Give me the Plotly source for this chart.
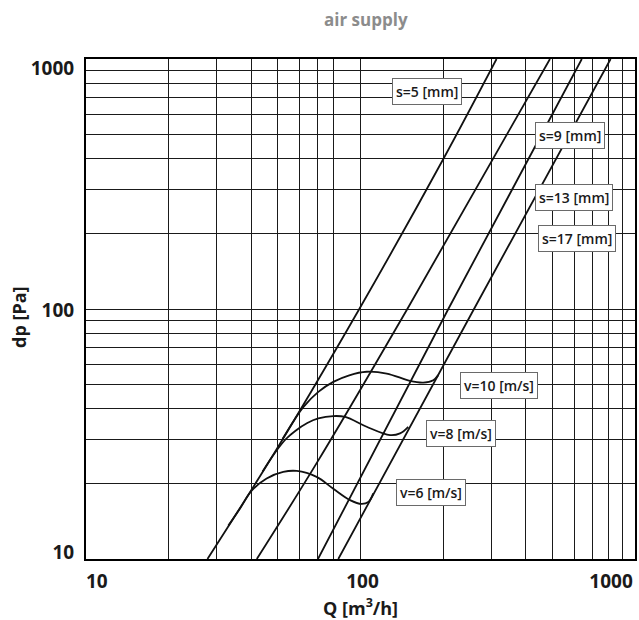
import math
import plotly.graph_objects as go

# ---------------- data ----------------
# constant-gap lines s [mm]: dp [Pa] vs Q [m3/h]
S_NAMES = ["s=5 [mm]", "s=9 [mm]", "s=13 [mm]", "s=17 [mm]"]
S5_Q = [27.7, 48.8, 99.0, 201.0, 313.0]
S5_DP = [10, 26.8, 100, 401, 1000]
S9_Q = [41.9, 70.2, 148.1, 490.0]
S9_DP = [10, 24.8, 100, 1000]
S13_Q = [70.0, 208.9, 640.0]
S13_DP = [10, 100, 1000]
S17_Q = [83.0, 259.1, 815.0]
S17_DP = [10, 100, 1000]

# constant-velocity curves v [m/s]
V_NAMES = ["v=10 [m/s]", "v=8 [m/s]", "v=6 [m/s]"]
V10_Q = [52.0, 57.0, 62.0, 70.2, 79.6, 91.0, 105.3, 124.6, 151.4, 169.3, 184.1, 192.0]
V10_DP = [30.2, 35.6, 40.6, 46.6, 51.1, 54.3, 56.1, 55.2, 51.6, 50.8, 51.9, 54.4]
V8_Q = [44.0, 48.8, 53.5, 58.0, 64.0, 70.2, 79.6, 88.0, 105.3, 128.1, 139.3, 149.3]
V8_DP = [22.4, 26.6, 30.2, 32.6, 35.0, 36.5, 37.3, 37.0, 33.8, 31.3, 31.8, 33.8]
V6_Q = [33.0, 36.5, 40.2, 45.5, 52.3, 58.6, 69.2, 79.6, 91.6, 101.0, 106.8, 111.3]
V6_DP = [13.6, 16.0, 18.8, 21.0, 22.3, 22.5, 21.3, 19.1, 17.2, 16.6, 16.9, 18.3]

# axes
X_RANGE = [10, 1000]
Y_RANGE = [10, 1000]
X_GRID = [20, 30, 40, 50, 60, 70, 80, 100, 200, 300, 400, 500, 600, 700, 800, 900]
Y_GRID = [20, 30, 40, 50, 60, 70, 80, 90, 100, 200, 300, 400, 500, 600, 700, 800, 900]
X_TICK_TEXT = ["10", "100", "1000"]
X_TICK_AT = [10.95, 101.7, 818]      # label anchor positions
Y_TICK_TEXT = ["10", "100", "1000"]
Y_TICK_AT = [10.66, 98.6, 920]

TITLE = "air supply"
X_TITLE = "Q [m<sup>3</sup>/h]"
Y_TITLE = "dp [Pa]"

# label boxes (paper coordinates)
S_LABEL_POS = [(0.621, 0.935), (0.8807, 0.8464), (0.8889, 0.724), (0.8944, 0.642)]
V_LABEL_POS = [(0.7523, 0.348), (0.6831, 0.2514), (0.6279, 0.133)]

# ---------------- figure ----------------
FONT = "Open Sans"
LINE = dict(color="#111111", width=1.8, shape="spline", smoothing=1.0)

fig = go.Figure()
for q, dp in [(S5_Q, S5_DP), (S9_Q, S9_DP), (S13_Q, S13_DP), (S17_Q, S17_DP),
              (V10_Q, V10_DP), (V8_Q, V8_DP), (V6_Q, V6_DP)]:
    fig.add_trace(go.Scatter(x=q, y=dp, mode="lines", line=LINE,
                             hoverinfo="skip", showlegend=False))

annotations = []
for name, (px, py) in zip(S_NAMES + V_NAMES, S_LABEL_POS + V_LABEL_POS):
    annotations.append(dict(
        text=name, x=px, y=py, xref="paper", yref="paper",
        showarrow=False, xanchor="center", yanchor="middle",
        font=dict(family=FONT, size=14, color="#1a1a1a", weight=600),
        bgcolor="white", bordercolor="#6a6a6a", borderwidth=1, borderpad=3))

annotations.append(dict(text=TITLE, x=0.5, y=1.0, xref="paper", yref="paper",
                        xanchor="center", yanchor="middle",
                        yshift=40, xshift=5, showarrow=False,
                        font=dict(family=FONT, size=17, color="#8c8c8c", weight="bold")))
annotations.append(dict(text=X_TITLE, x=0.5, y=0.0, xref="paper", yref="paper",
                        xanchor="center", yanchor="middle",
                        yshift=-48, showarrow=False,
                        font=dict(family=FONT, size=18, color="#1a1a1a", weight="bold")))
annotations.append(dict(text=Y_TITLE, x=0.0, y=0.5, xref="paper", yref="paper",
                        xanchor="center", yanchor="middle",
                        xshift=-67, yshift=-8, textangle=-90, showarrow=False,
                        font=dict(family=FONT, size=18, color="#1a1a1a", weight="bold")))

axis_common = dict(
    type="log", showgrid=False, zeroline=False, ticks="", automargin=False,
    showline=True, mirror=True, linecolor="black", linewidth=2,
    tickfont=dict(family=FONT, size=19, color="#1a1a1a", weight="bold"),
)

fig.update_layout(
    width=639, height=620,
    margin=dict(l=86, r=4, t=59, b=61),
    paper_bgcolor="white", plot_bgcolor="white",
    annotations=annotations,
    xaxis=dict(axis_common,
               range=[math.log10(X_RANGE[0]), math.log10(X_RANGE[1])],
               tickmode="array", tickvals=X_TICK_AT, ticktext=X_TICK_TEXT,
               ticklabelstandoff=4,
               minor=dict(tickmode="array", tickvals=X_GRID, showgrid=True,
                          gridcolor="#1a1a1a", gridwidth=1, ticks="")),
    yaxis=dict(axis_common,
               range=[math.log10(Y_RANGE[0]), math.log10(Y_RANGE[1])],
               tickmode="array", tickvals=Y_TICK_AT, ticktext=Y_TICK_TEXT,
               ticklabelstandoff=6,
               minor=dict(tickmode="array", tickvals=Y_GRID, showgrid=True,
                          gridcolor="#1a1a1a", gridwidth=1, ticks="")),
)

fig.write_html("out.html",
               config={"displayModeBar": False, "staticPlot": True},
               post_script="document.body.style.margin='0';document.body.style.overflow='hidden';")
